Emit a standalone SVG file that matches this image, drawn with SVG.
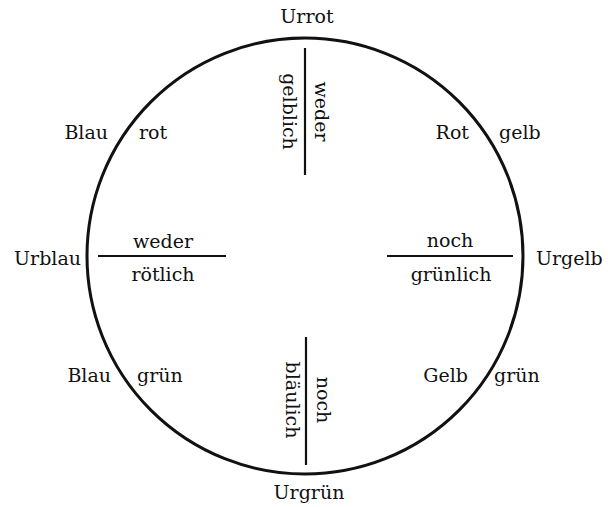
<svg xmlns="http://www.w3.org/2000/svg" width="608" height="507" viewBox="0 0 608 507">
<style>
text{font-family:"DejaVu Serif","Liberation Serif",serif;font-size:19px;fill:#111}
.m{text-anchor:middle}
.e{text-anchor:end}
.ln{stroke:#111;stroke-width:2.2;fill:none}
</style>
<rect width="608" height="507" fill="#fff"/>
<g id="circle"><circle cx="305" cy="256" r="218" fill="none" stroke="#111" stroke-width="3"/></g>
<g id="connectors">
<line class="ln" x1="305" y1="48" x2="305" y2="175"/>
<line class="ln" x1="306" y1="337" x2="306" y2="465"/>
<line class="ln" x1="98" y1="256" x2="226" y2="256"/>
<line class="ln" x1="387" y1="256" x2="513" y2="256"/>
</g>
<g id="urrot"><text class="m" x="307" y="23">Urrot</text></g>
<g id="urblau"><text class="e" x="81" y="265">Urblau</text></g>
<g id="urgelb"><text x="536" y="265">Urgelb</text></g>
<g id="urgruen"><text class="m" x="309" y="499">Urgrün</text></g>
<g id="top-labels">
<text class="m" transform="translate(315,111.5) rotate(90)">weder</text>
<text class="m" transform="translate(283,111.5) rotate(90)">gelblich</text>
</g>
<g id="bottom-labels">
<text class="m" transform="translate(317,400) rotate(90)">noch</text>
<text class="m" transform="translate(286,400) rotate(90)">bläulich</text>
</g>
<g id="left-labels">
<text class="m" x="163" y="248">weder</text>
<text class="m" x="163" y="281">rötlich</text>
</g>
<g id="right-labels">
<text class="m" x="450" y="247">noch</text>
<text class="m" x="451" y="281">grünlich</text>
</g>
<g id="blau-rot"><text class="e" x="108" y="139">Blau</text><text x="139" y="139">rot</text></g>
<g id="rot-gelb"><text class="e" x="469" y="139">Rot</text><text x="499" y="139">gelb</text></g>
<g id="blau-gruen"><text class="e" x="111" y="382">Blau</text><text x="137" y="382">grün</text></g>
<g id="gelb-gruen"><text class="e" x="468" y="382">Gelb</text><text x="494" y="382">grün</text></g>
</svg>
